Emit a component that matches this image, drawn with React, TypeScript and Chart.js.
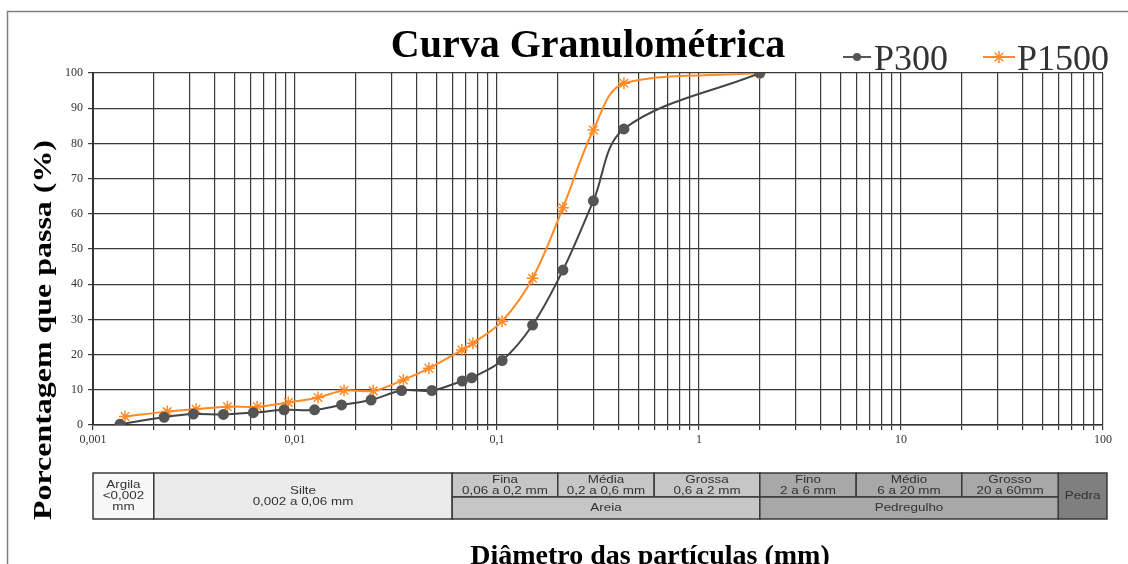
import React, { useEffect, useRef } from "react";
import { Chart, registerables } from "chart.js";

Chart.register(...registerables);

// ---- Data ----
const p300Diameter = [0.00136, 0.00225, 0.00314, 0.00442, 0.00622, 0.00883, 0.0125, 0.017, 0.0238, 0.0337, 0.0476, 0.0673, 0.075, 0.106, 0.15, 0.212, 0.3, 0.425, 2.0];
const p300Passing = [0.2, 2.2, 3.1, 3.0, 3.5, 4.3, 4.3, 5.7, 7.1, 9.8, 9.8, 12.5, 13.4, 18.3, 28.4, 44.0, 63.7, 84.1, 100];
const p1500Diameter = [0.00144, 0.00233, 0.00324, 0.00463, 0.0065, 0.00927, 0.013, 0.0175, 0.0244, 0.0344, 0.046, 0.067, 0.076, 0.106, 0.15, 0.212, 0.3, 0.425, 2.0];
const p1500Passing = [2.4, 3.8, 4.5, 5.2, 5.2, 6.4, 7.8, 9.8, 9.7, 12.8, 16.1, 21.3, 23.2, 29.5, 41.7, 61.7, 83.8, 97.1, 100];

const seriesNames = ["P300", "P1500"];
const xTickLabels = ["0,001", "0,01", "0,1", "1", "10", "100"];
const xMin = 0.001;
const xMax = 100;

const titleText = "Curva Granulométrica";
const yTitleText = "Porcentagem que passa (%)";
const xTitleText = "Diâmetro das partículas (mm)";

// classification table
const fullColumns = [
  { from: 0.001, to: 0.002, lines: ["Argila", "<0,002", "mm"], fill: "#f7f7f7" },
  { from: 0.002, to: 0.06, lines: ["Silte", "0,002 a 0,06 mm"], fill: "#ebebeb" },
  { from: 60, to: 100, lines: ["Pedra"], fill: "#7f7f7f" },
];
const subClasses = [
  { from: 0.06, to: 0.2, lines: ["Fina", "0,06 a 0,2 mm"], fill: "#c6c6c6" },
  { from: 0.2, to: 0.6, lines: ["Média", "0,2 a 0,6 mm"], fill: "#c6c6c6" },
  { from: 0.6, to: 2, lines: ["Grossa", "0,6 a 2 mm"], fill: "#c6c6c6" },
  { from: 2, to: 6, lines: ["Fino", "2 a 6 mm"], fill: "#a8a8a8" },
  { from: 6, to: 20, lines: ["Médio", "6 a 20 mm"], fill: "#a8a8a8" },
  { from: 20, to: 60, lines: ["Grosso", "20 a 60mm"], fill: "#a8a8a8" },
];
const groupClasses = [
  { from: 0.06, to: 2, lines: ["Areia"], fill: "#c6c6c6" },
  { from: 2, to: 60, lines: ["Pedregulho"], fill: "#a8a8a8" },
];

const GREY = "#555555";
const ORANGE = "#ff8a26";

function buildLogGrid(): number[] {
  const vals: number[] = [];
  for (let e = -3; e <= 1; e++) {
    for (let m = 1; m <= 9; m++) vals.push(parseFloat((m * Math.pow(10, e)).toPrecision(6)));
  }
  vals.push(100);
  return vals;
}

function drawStar(ctx: CanvasRenderingContext2D, x: number, y: number, r: number) {
  ctx.beginPath();
  for (let i = 0; i < 4; i++) {
    const a = (i * Math.PI) / 4;
    ctx.moveTo(x - r * Math.cos(a), y - r * Math.sin(a));
    ctx.lineTo(x + r * Math.cos(a), y + r * Math.sin(a));
  }
  ctx.stroke();
}

function scaledText(ctx: CanvasRenderingContext2D, text: string, cx: number, cy: number, font: string, sx: number, sy: number, color: string) {
  ctx.save();
  ctx.font = font;
  ctx.fillStyle = color;
  ctx.textAlign = "center";
  ctx.textBaseline = "middle";
  ctx.translate(cx, cy);
  ctx.scale(sx, sy);
  ctx.fillText(text, 0, 0);
  ctx.restore();
}

const decorPlugin = {
  id: "decor",
  beforeDraw(chart: any) {
    const ctx = chart.ctx as CanvasRenderingContext2D;
    ctx.save();
    ctx.fillStyle = "#ffffff";
    ctx.fillRect(0, 0, chart.width, chart.height);
    ctx.restore();
  },
  afterDraw(chart: any) {
    const ctx = chart.ctx as CanvasRenderingContext2D;
    const xs = chart.scales.x;
    const area = chart.chartArea;

    // outer frame
    ctx.save();
    ctx.strokeStyle = "#808080";
    ctx.lineWidth = 1.5;
    ctx.strokeRect(7.5, 11.5, 1200, 700);
    ctx.restore();

    // title
    ctx.save();
    ctx.font = 'bold 40px "Liberation Serif"';
    ctx.fillStyle = "#000";
    ctx.textAlign = "center";
    ctx.textBaseline = "alphabetic";
    ctx.fillText(titleText, 588, 57);
    ctx.restore();

    // legend
    ctx.save();
    ctx.font = '36px "Liberation Serif"';
    ctx.textBaseline = "alphabetic";
    ctx.textAlign = "left";
    const ly = 57;
    ctx.lineWidth = 2;
    ctx.strokeStyle = GREY;
    ctx.beginPath();
    ctx.moveTo(843, ly);
    ctx.lineTo(871, ly);
    ctx.stroke();
    ctx.fillStyle = GREY;
    ctx.beginPath();
    ctx.arc(857, ly, 4, 0, Math.PI * 2);
    ctx.fill();
    ctx.fillStyle = "#333";
    ctx.fillText(seriesNames[0], 874, 70);
    ctx.strokeStyle = ORANGE;
    ctx.beginPath();
    ctx.moveTo(983, ly);
    ctx.lineTo(1015, ly);
    ctx.stroke();
    ctx.lineWidth = 1.5;
    drawStar(ctx, 999, ly, 6);
    ctx.fillStyle = "#333";
    ctx.fillText(seriesNames[1], 1017, 70);
    ctx.restore();

    // y title
    ctx.save();
    ctx.font = 'bold 26px "Liberation Serif"';
    const yw = ctx.measureText(yTitleText).width;
    ctx.fillStyle = "#000";
    ctx.textAlign = "center";
    ctx.textBaseline = "middle";
    ctx.translate(44, 330);
    ctx.rotate(-Math.PI / 2);
    ctx.scale(380 / yw, 1);
    ctx.fillText(yTitleText, 0, 0);
    ctx.restore();

    // classification table
    const top = 473, mid = 497, bot = 519;
    const px = (v: number) => (v >= xMax ? xs.getPixelForValue(xMax) + 4 : xs.getPixelForValue(v));
    const tfont = '11px "Liberation Sans"';
    const tcol = "#333";
    const lineH = 11;
    ctx.save();
    const drawCell = (c: any, y0: number, y1: number) => {
      const x0 = px(c.from), x1 = px(c.to);
      ctx.fillStyle = c.fill;
      ctx.fillRect(x0, y0, x1 - x0, y1 - y0);
      ctx.strokeStyle = "#3a3a3a";
      ctx.lineWidth = 1.5;
      ctx.strokeRect(x0, y0, x1 - x0, y1 - y0);
      const cx = (x0 + x1) / 2;
      const cy = (y0 + y1) / 2;
      const n = c.lines.length;
      c.lines.forEach((t: string, i: number) => {
        scaledText(ctx, t, cx, cy + (i - (n - 1) / 2) * lineH, tfont, 1.22, 1, tcol);
      });
    };
    fullColumns.forEach((c) => drawCell(c, top, bot));
    subClasses.forEach((c) => drawCell(c, top, mid));
    groupClasses.forEach((c) => drawCell(c, mid, bot));
    ctx.restore();

    // x title
    ctx.save();
    ctx.font = 'bold 28px "Liberation Serif"';
    ctx.fillStyle = "#000";
    ctx.textAlign = "center";
    ctx.textBaseline = "alphabetic";
    ctx.fillText(xTitleText, 650, 564);
    ctx.restore();
  },
};

export default function App() {
  const canvasRef = useRef<HTMLCanvasElement | null>(null);

  useEffect(() => {
    document.body.style.margin = "0";
    const canvas = canvasRef.current;
    if (!canvas) return;
    const gridValues = buildLogGrid();

    const chart = new Chart(canvas, {
      type: "line",
      data: {
        datasets: [
          {
            label: seriesNames[0],
            data: p300Diameter.map((d, i) => ({ x: d, y: p300Passing[i] })),
            borderColor: "#444444",
            backgroundColor: GREY,
            borderWidth: 2,
            pointStyle: "circle",
            pointRadius: 4.5,
            pointBackgroundColor: GREY,
            pointBorderColor: GREY,
            tension: 0.35,
            fill: false,
          },
          {
            label: seriesNames[1],
            data: p1500Diameter.map((d, i) => ({ x: d, y: p1500Passing[i] })),
            borderColor: ORANGE,
            backgroundColor: ORANGE,
            borderWidth: 2,
            pointStyle: "star",
            pointRadius: 6,
            pointBorderColor: ORANGE,
            pointBorderWidth: 1.5,
            tension: 0.35,
            fill: false,
          },
        ],
      },
      options: {
        responsive: false,
        animation: false,
        devicePixelRatio: 1,
        layout: { padding: { left: 0, right: 25, top: 73, bottom: 0 } },
        plugins: {
          legend: { display: false },
          title: { display: false },
          tooltip: { enabled: false },
        },
        scales: {
          x: {
            type: "logarithmic",
            min: xMin,
            max: xMax,
            afterBuildTicks: (scale: any) => {
              scale.ticks = gridValues.map((v) => ({ value: v }));
            },
            afterFit: (scale: any) => {
              scale.height = 139;
            },
            ticks: {
              autoSkip: false,
              maxRotation: 0,
              minRotation: 0,
              padding: 3,
              color: "#333",
              font: { family: '"Liberation Serif"', size: 12 },
              callback: (_v: any, index: number) => (index % 9 === 0 ? xTickLabels[index / 9] : ""),
            },
            grid: { color: "#3a3a3a", lineWidth: 1.2, tickLength: 5, drawTicks: true },
            border: { color: "#333", width: 1.5 },
          },
          y: {
            type: "linear",
            min: 0,
            max: 100,
            afterFit: (scale: any) => {
              scale.width = 93;
            },
            ticks: {
              stepSize: 10,
              padding: 5,
              color: "#333",
              font: { family: '"Liberation Serif"', size: 12 },
            },
            grid: { color: "#3a3a3a", lineWidth: 1.2, tickLength: 5 },
            border: { color: "#333", width: 2 },
          },
        },
      },
      plugins: [decorPlugin],
    });

    return () => chart.destroy();
  }, []);

  return (
    <div style={{ width: 1128, height: 564 }}>
      <canvas ref={canvasRef} width={1128} height={564} style={{ display: "block", width: 1128, height: 564 }} />
    </div>
  );
}
